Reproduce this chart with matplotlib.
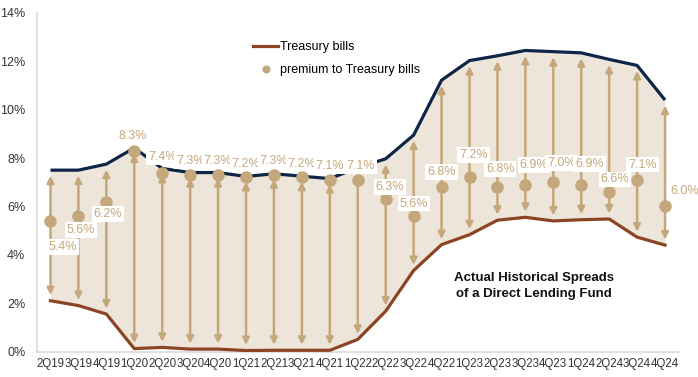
import numpy as np
import matplotlib
matplotlib.use('Agg')
import matplotlib.pyplot as plt

plt.rcParams['font.family'] = ['Liberation Sans', 'DejaVu Sans']

quarters = ['2Q19', '3Q19', '4Q19', '1Q20', '2Q20', '3Q20', '4Q20', '1Q21', '2Q21', '3Q21', '4Q21',
            '1Q22', '2Q22', '3Q22', '4Q22', '1Q23', '2Q23', '3Q23', '4Q23', '1Q24', '2Q24', '3Q24', '4Q24']
tbills = [2.1, 1.9, 1.55, 0.12, 0.17, 0.1, 0.1, 0.04, 0.05, 0.05, 0.05,
          0.5, 1.67, 3.35, 4.42, 4.83, 5.43, 5.55, 5.4, 5.45, 5.48, 4.73, 4.4]
premium = [5.4, 5.6, 6.2, 8.3, 7.4, 7.3, 7.3, 7.2, 7.3, 7.2, 7.1,
           7.1, 6.3, 5.6, 6.8, 7.2, 6.8, 6.9, 7.0, 6.9, 6.6, 7.1, 6.0]

# label offsets (points) relative to each premium dot
lab_off = [(9, -19), (2, -10), (1, -9), (-1, 11), (0, 11), (0, 10), (0, 10), (0, 10), (0, 10), (0, 10), (0, 10),
           (2, 10), (3, 9), (0, 9), (0, 11), (3, 16), (2, 13), (6, 14), (6, 14), (6, 15), (4, 9), (4, 11), (14, 11)]

navy = '#0f2548'
brown = '#8b4524'
tan = '#c4a87b'
fill_c = '#ede5d9'

tbills = np.array(tbills)
premium = np.array(premium)
total = tbills + premium
x = np.arange(len(quarters))

fig = plt.figure(figsize=(6.98, 3.77), dpi=100)
ax = fig.add_axes([0.0523, 0.0676, 0.9205, 0.898])

ax.fill_between(x, tbills, total, color=fill_c, lw=0, zorder=1)

for i in x:
    ax.annotate('', xy=(i, total[i]), xytext=(i, tbills[i]),
                arrowprops=dict(arrowstyle='<|-|>', color=tan, lw=1.8, shrinkA=4, shrinkB=4,
                                mutation_scale=10), zorder=2)

ax.plot(x, total, color=navy, lw=2.3, zorder=4, solid_capstyle='butt')
ax.plot(x, tbills, color=brown, lw=2.3, zorder=4, label='Treasury bills')
ax.plot(x, premium, 'o', color=tan, ms=8, zorder=5, label='premium to Treasury bills', linestyle='none')

for i in x:
    ax.annotate('%.1f%%' % premium[i], (i, premium[i]), xytext=lab_off[i], textcoords='offset points',
                ha='center', va='center', fontsize=9, color=tan, zorder=6,
                bbox=dict(boxstyle='square,pad=0.15', fc='white', ec='none'))

ax.text(17.3, 2.7, 'Actual Historical Spreads\nof a Direct Lending Fund', ha='center', va='center',
        fontsize=9.5, fontweight='bold', color='#111111', linespacing=1.5)

ax.set_xlim(-0.5, 22.5)
ax.set_ylim(0, 14)
ax.set_yticks(np.arange(0, 15, 2))
ax.set_yticklabels(['%d%%' % v for v in range(0, 15, 2)])
ax.set_xticks(x)
ax.set_xticklabels(quarters)
ax.tick_params(axis='both', length=0, colors='#333333')
ax.tick_params(axis='x', labelsize=8.3, pad=5)
ax.tick_params(axis='y', labelsize=9, pad=8)
for s in ['top', 'right']:
    ax.spines[s].set_visible(False)
for s in ['left', 'bottom']:
    ax.spines[s].set_color('#d9d9d9')
    ax.spines[s].set_linewidth(1.2)

ax.legend(loc='upper left', bbox_to_anchor=(0.32, 0.95), frameon=False, fontsize=9,
          handlelength=2.0, handletextpad=0.1, labelspacing=0.9, markerscale=0.6)

fig.savefig('out.png', dpi=100)
